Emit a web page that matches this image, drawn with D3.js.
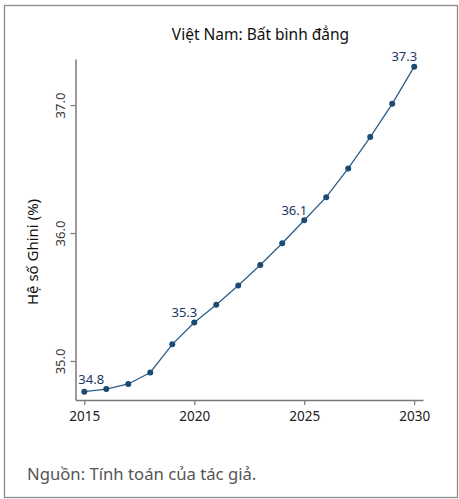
<!DOCTYPE html>
<html><head><meta charset="utf-8">
<script src="https://cdn.jsdelivr.net/npm/d3@7"></script>
<style>
html,body{margin:0;padding:0;background:#fff;}
svg{display:block;}
text{font-family:"Noto Sans","Open Sans",sans-serif;}
</style></head>
<body>
<svg id="chart" width="459" height="499"></svg>
<script>
const years = [2015,2016,2017,2018,2019,2020,2021,2022,2023,2024,2025,2026,2027,2028,2029,2030];
const gini = [34.76,34.78,34.82,34.91,35.13,35.30,35.44,35.59,35.75,35.92,36.10,36.28,36.505,36.75,37.01,37.30];
const labelYears = [2015,2020,2025,2030];
const xTicks = [2015,2020,2025,2030];
const yTicks = [35,36,37];
const title = "Việt Nam: Bất bình đẳng";
const yTitle = "Hệ số Ghini (%)";
const source = "Nguồn: Tính toán của tác giả.";

const svg = d3.select("#chart");
svg.append("rect").attr("x",4.5).attr("y",5.5).attr("width",453).attr("height",492)
  .attr("fill","none").attr("stroke","#8a8a8a").attr("stroke-width",1.3);

const x = d3.scaleLinear().domain([2014.6,2030.4]).range([75.5,423]);
const y = d3.scaleLinear().domain([34.695,37.36]).range([400,59]);

const axisColor = "#7a7a7a";
const gx = svg.append("g").attr("transform","translate(0,400)")
  .call(d3.axisBottom(x).tickValues(xTicks).tickFormat(d3.format("d")).tickSize(5).tickSizeOuter(0));
const gy = svg.append("g").attr("transform","translate(75.5,0)")
  .call(d3.axisLeft(y).tickValues(yTicks).tickFormat(d3.format(".1f")).tickSize(5).tickSizeOuter(0));
[gx,gy].forEach(g=>{
  g.select(".domain").attr("stroke",axisColor).attr("stroke-width",1.5);
  g.selectAll(".tick line").attr("stroke",axisColor).attr("stroke-width",1.2);
});
gx.selectAll(".tick text").attr("fill","#222").attr("font-size",13.5).attr("dy","0.95em")
  .style("font-family","'Noto Sans',sans-serif");
gy.selectAll(".tick text").attr("fill","#333").attr("font-size",13)
  .style("font-family","'Noto Sans',sans-serif")
  .attr("x",0).attr("dy",0).attr("text-anchor","middle")
  .attr("transform","translate(-11,0) rotate(-90)");

const data = years.map((yr,i)=>({yr,v:gini[i]}));
svg.append("path").datum(data)
  .attr("fill","none").attr("stroke","#2d5d8a").attr("stroke-width",1.3)
  .attr("d",d3.line().x(d=>x(d.yr)).y(d=>y(d.v)));
svg.selectAll("circle.pt").data(data).enter().append("circle")
  .attr("class","pt").attr("cx",d=>x(d.yr)).attr("cy",d=>y(d.v)).attr("r",3)
  .attr("fill","#1b4a72");

svg.selectAll("text.lbl").data(data.filter(d=>labelYears.includes(d.yr))).enter().append("text")
  .attr("class","lbl")
  .attr("x",(d,i)=> i===0 ? x(d.yr)-6 : x(d.yr)+3)
  .attr("y",(d,i)=>y(d.v)-(i===0 ? 8 : 5.5))
  .attr("text-anchor",(d,i)=> i===0 ? "start" : "end")
  .attr("font-size",13).attr("fill","#1a3765")
  .text(d=>d.v.toFixed(1));

svg.append("text").attr("x",260.5).attr("y",40).attr("text-anchor","middle")
  .attr("font-size",15.5).attr("fill","#111").text(title);
svg.append("text").attr("transform","translate(38,252) rotate(-90)").attr("text-anchor","middle")
  .attr("font-size",15).attr("fill","#111").text(yTitle);
svg.append("text").attr("x",27).attr("y",479.5).attr("font-size",16.7).attr("fill","#555")
  .text(source);
</script>
</body></html>
